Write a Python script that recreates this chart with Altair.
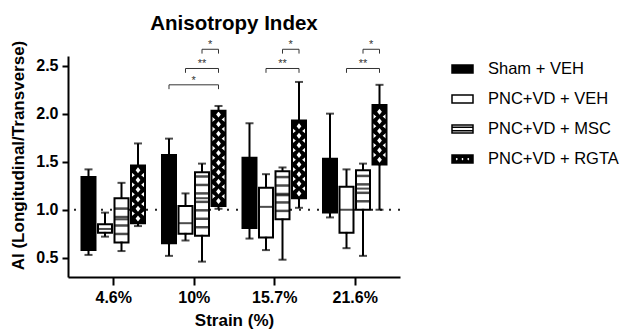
import json
import altair as alt
import numpy as np
import pandas as pd

strains = ["4.6%", "10%", "15.7%", "21.6%"]
series = ["Sham + VEH", "PNC+VD + VEH", "PNC+VD + MSC", "PNC+VD + RGTA"]

# box summaries (one value per strain): whisker low, Q1, median, Q3, whisker high
sham_lo = [0.53, 0.52, 0.70, 0.92]
sham_q1 = [0.58, 0.65, 0.81, 0.97]
sham_med = [0.95, 1.05, 1.15, 1.20]
sham_q3 = [1.34, 1.57, 1.54, 1.53]
sham_hi = [1.42, 1.74, 1.90, 2.00]

veh_lo = [0.72, 0.68, 0.58, 0.60]
veh_q1 = [0.76, 0.75, 0.71, 0.76]
veh_med = [0.80, 0.86, 1.03, 1.00]
veh_q3 = [0.85, 1.04, 1.23, 1.24]
veh_hi = [0.97, 1.17, 1.37, 1.42]

msc_lo = [0.57, 0.46, 0.48, 0.52]
msc_q1 = [0.66, 0.73, 0.90, 1.00]
msc_med = [0.90, 1.12, 1.15, 1.22]
msc_q3 = [1.12, 1.39, 1.40, 1.41]
msc_hi = [1.28, 1.48, 1.44, 1.48]

rgta_lo = [0.83, 1.01, 1.02, 1.00]
rgta_q1 = [0.86, 1.04, 1.12, 1.47]
rgta_med = [1.10, 1.60, 1.50, 1.80]
rgta_q3 = [1.46, 2.03, 1.93, 2.09]
rgta_hi = [1.69, 2.08, 2.33, 2.30]

fills = ["black", "white", "white", "black"]

# significance brackets
br_strain = [1, 1, 1, 2, 2, 3, 3]
br_from = [2, 1, 0, 2, 1, 2, 1]
br_to = [3, 3, 3, 3, 3, 3, 3]
br_level = [2.67, 2.47, 2.30, 2.67, 2.47, 2.67, 2.47]
br_label = ["*", "**", "*", "*", "**", "*", "**"]

ref_value = [1.0]

FONT = "Arial, Liberation Sans, sans-serif"
STEP = 0.205  # series offset inside a group, in group units

summ = [
    (sham_lo, sham_q1, sham_med, sham_q3, sham_hi),
    (veh_lo, veh_q1, veh_med, veh_q3, veh_hi),
    (msc_lo, msc_q1, msc_med, msc_q3, msc_hi),
    (rgta_lo, rgta_q1, rgta_med, rgta_q3, rgta_hi),
]
rows = []
for si, s in enumerate(series):
    lo, q1, med, q3, hi = summ[si]
    for gi, st in enumerate(strains):
        rows.append(dict(series=s, strain=st, x=gi + (si - 1.5) * STEP,
                         lo=lo[gi], q1=q1[gi], med=med[gi], q3=q3[gi], hi=hi[gi],
                         dark=fills[si] == "black"))
df = pd.DataFrame(rows)

# pattern helpers
stripe_rows = []
msc = df[df.series == series[2]]
for _, r in msc.iterrows():
    s = 0.088
    for v in np.arange(r.q1 + s, r.q3 - s * 0.4, s):
        stripe_rows.append(dict(x=r.x, y=v))
stripes = pd.DataFrame(stripe_rows)

dia_c, dia_e = [], []
rg = df[df.series == series[3]]
for _, r in rg.iterrows():
    s = 0.1
    for v in np.arange(r.q1 + s / 2, r.q3 - 0.03, s):
        dia_c.append(dict(x=r.x, y=v))
    for v in np.arange(r.q1 + s, r.q3 - 0.03, s):
        dia_e.append(dict(x=r.x, y=v))
dia_c = pd.DataFrame(dia_c)
dia_e = pd.DataFrame(dia_e)

br = pd.DataFrame(dict(
    x1=[g + (f - 1.5) * STEP for g, f in zip(br_strain, br_from)],
    x2=[g + (t - 1.5) * STEP for g, t in zip(br_strain, br_to)],
    level=br_level, label=br_label))
br["xm"] = (br.x1 + br.x2) / 2
br["low"] = br.level - 0.045
drops = pd.concat([br[["x1", "level", "low"]].rename(columns={"x1": "x"}),
                   br[["x2", "level", "low"]].rename(columns={"x2": "x"})])

xs = alt.Scale(domain=[-0.5, 3.5], nice=False, zero=False)
ys = alt.Scale(domain=[0.3, 2.6], nice=False, zero=False)
label_expr = json.dumps(strains) + "[datum.value]"
xax = alt.Axis(values=[0, 1, 2, 3], labelExpr=label_expr, title="Strain (%)", grid=False,
               tickSize=8, tickWidth=2, domainWidth=2, domainColor="black", tickColor="black",
               labelFont=FONT, labelFontSize=16, labelFontWeight="bold", labelColor="black",
               labelPadding=4, titleFont=FONT, titleFontSize=17, titleFontWeight="bold",
               titleColor="black", titlePadding=7)
yax = alt.Axis(values=[0.5, 1.0, 1.5, 2.0, 2.5], format=".1f", title="AI (Longitudinal/Transverse)",
               grid=False, tickSize=6, tickWidth=2, domainWidth=2, domainColor="black",
               tickColor="black", labelFont=FONT, labelFontSize=16, labelFontWeight="bold",
               labelColor="black", labelPadding=4, titleFont=FONT, titleFontSize=17,
               titleFontWeight="bold", titleColor="black", titlePadding=8, titleY=99)

fill_scale = alt.Scale(domain=series, range=fills)
stroke_scale = alt.Scale(domain=series, range=["black"] * len(series))

def X(f="x"):
    return alt.X(f + ":Q", scale=xs, axis=xax)

def Y(f):
    return alt.Y(f + ":Q", scale=ys, axis=yax)

ref = alt.Chart(pd.DataFrame({"ref": ref_value})).mark_rule(
    color="#222", strokeWidth=2, strokeDash=[2, 7]).encode(y=Y("ref"))

base = alt.Chart(df)
whisk = base.mark_rule(color="black", strokeWidth=2).encode(x=X(), y=Y("lo"), y2="hi")
box_dark = base.transform_filter("datum.dark").mark_bar(
    size=14, strokeWidth=0, fill="black").encode(x=X(), y=Y("q1"), y2="q3")
box_light = base.transform_filter("!datum.dark").mark_bar(
    size=14, strokeWidth=0, fill="white").encode(x=X(), y=Y("q1"), y2="q3")
median = base.mark_tick(orient="horizontal", size=14, thickness=2, color="black").encode(
    x=X(), y=Y("med"))
stripe_l = alt.Chart(stripes).mark_tick(orient="horizontal", size=14, thickness=2.5,
                                        color="black").encode(x=X(), y=Y("y"))
dc = alt.Chart(dia_c).mark_point(shape="M0,-1L0.8,0L0,1L-0.8,0Z", size=36, filled=True,
                                 fill="white", strokeWidth=0, opacity=1).encode(x=X(), y=Y("y"))
de = alt.Chart(dia_e).mark_point(shape="M-1,-0.45L-0.45,0L-1,0.45ZM1,-0.45L0.45,0L1,0.45Z",
                                 size=196, filled=True, fill="white", strokeWidth=0,
                                 opacity=1).encode(x=X(), y=Y("y"))
outline = base.mark_bar(size=14, fillOpacity=0, stroke="black", strokeWidth=2).encode(
    x=X(), y=Y("q1"), y2="q3")
cap_lo = base.mark_tick(orient="horizontal", size=8, thickness=2, color="black").encode(
    x=X(), y=Y("lo"))
cap_hi = base.mark_tick(orient="horizontal", size=8, thickness=2, color="black").encode(
    x=X(), y=Y("hi"))

brh = alt.Chart(br).mark_rule(color="#333", strokeWidth=1).encode(x=X("x1"), x2="x2", y=Y("level"))
brd = alt.Chart(drops).mark_rule(color="#333", strokeWidth=1).encode(x=X(), y=Y("level"), y2="low")
brt = alt.Chart(br).mark_text(font=FONT, fontSize=11, baseline="alphabetic", dy=-1,
                              color="#333").encode(x=X("xm"), y=Y("level"), text="label:N")

rect_p = "M-1,-0.38L1,-0.38L1,0.38L-1,0.38Z"
msc_p = "M-1,-0.38L1,-0.38L1,0.38L-1,0.38ZM-1,-0.16L1,-0.16M-1,0.16L1,0.16"
rgta_p = ("M-1,-0.38L1,-0.38L1,0.38L-1,0.38Z"
          "M-0.55,-0.3L-0.72,0L-0.55,0.3L-0.38,0Z"
          "M0,-0.3L-0.17,0L0,0.3L0.17,0Z"
          "M0.55,-0.3L0.38,0L0.55,0.3L0.72,0Z")
legend = alt.Legend(title=None, orient="none", legendX=383, legendY=1.5, symbolSize=441,
                    symbolStrokeColor="black", symbolStrokeWidth=1.5, symbolOpacity=1,
                    labelFont=FONT, labelFontSize=16.5, labelColor="black", labelOffset=14,
                    rowPadding=10, padding=0)
# legend carrier: tiny points sitting on the box bottom edge (hidden by the outline)
leg = base.mark_point(filled=True, size=1, strokeWidth=1.5).encode(
    x=X(), y=Y("q1"),
    fill=alt.Fill("series:N", scale=fill_scale, legend=legend),
    stroke=alt.Stroke("series:N", scale=stroke_scale, legend=legend),
    shape=alt.Shape("series:N", scale=alt.Scale(domain=series, range=[rect_p, rect_p, msc_p, rgta_p]),
                    legend=legend))

chart = alt.layer(ref, whisk, box_dark, box_light, median, stripe_l, dc, de, leg, outline,
                  cap_lo, cap_hi, brh, brd, brt).properties(
    width=332, height=221,
    padding={"left": 60, "top": 48, "right": 222, "bottom": 52},
    autosize=alt.AutoSizeParams(type="none"),
    title=alt.TitleParams("Anisotropy Index", font=FONT, fontSize=20.5, fontWeight="bold",
                          color="black", anchor="middle", frame="group", offset=11, dy=22,
                          baseline="alphabetic"),
).configure_view(stroke=None)

chart.save("out.html", embed_options={"renderer": "svg", "actions": False})
